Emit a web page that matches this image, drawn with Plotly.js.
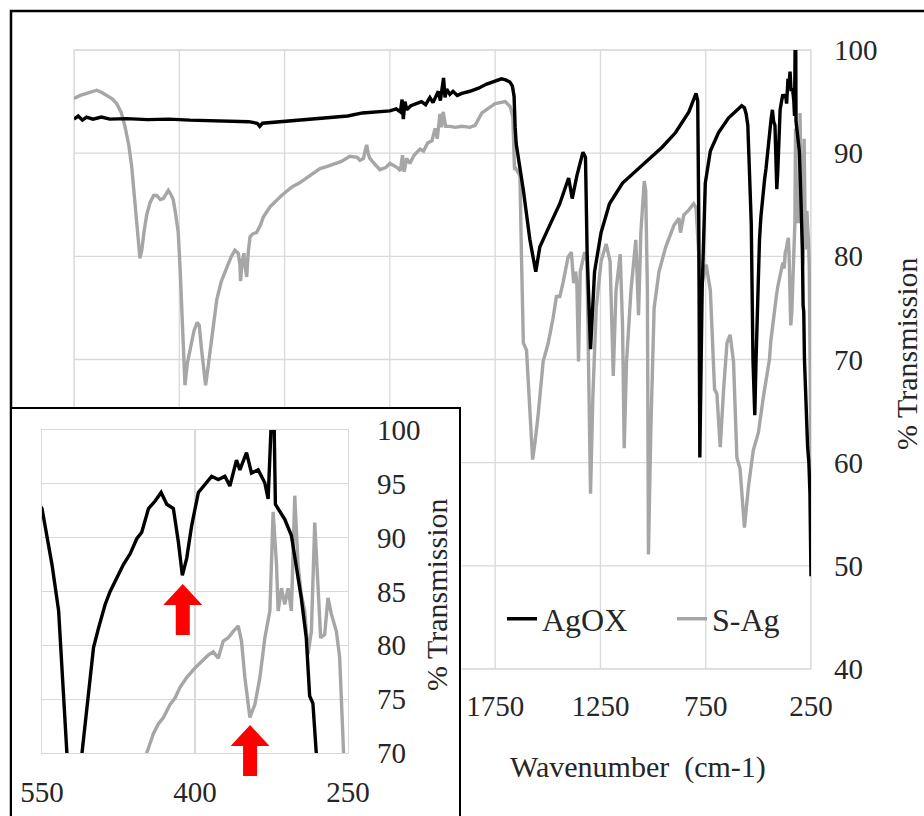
<!DOCTYPE html>
<html>
<head>
<meta charset="utf-8">
<script src="https://cdn.plot.ly/plotly-3.0.1.min.js"></script>
<style>html,body{margin:0;padding:0;background:#fff;}#chart{width:924px;height:816px;}</style>
</head>
<body>
<div id="chart"></div>
<script>
// ---------- data (wavenumber in cm-1, % transmission) ----------
const agoxWn = [3750,3730,3710,3690,3660,3620,3580,3500,3400,3300,3200,3100,3000,2920,2880,2868,2855,2800,2700,2600,2520,2450,2380,2300,2250,2220,2200,2192,2186,2178,2170,2150,2120,2100,2080,2060,2045,2030,2020,2010,2000,1995,1988,1980,1965,1950,1930,1908,1870,1829,1790,1750,1720,1700,1680,1668,1660,1655,1650,1616,1585,1557,1538,1491,1443,1401,1384,1362,1333,1321,1313,1297,1278,1247,1207,1145,1050,956,893,830,796,788,783,778,767,752,728,689,642,579,566,558,550,540.2,533.7,525.6,517,510.9,504.4,499.5,494.6,488.1,483.2,476.7,470.2,463.6,457.1,452.2,445.6,439.1,433.2,427.7,421.2,416.3,412.4,408.1,403.3,396.7,390.2,383.7,377.2,370.7,365.8,359.3,356,349.5,344.6,338.1,331.6,328.3,325.1,322.5,321.2,312,305.5,300.7,295.8,290.9,287.6,284.4,281.1,272,266,260,255,252,250];
const agoxT = [93.3,93.6,93.2,93.5,93.3,93.5,93.3,93.35,93.25,93.3,93.2,93.15,93.1,93.05,92.9,92.6,92.9,93.0,93.15,93.3,93.5,93.6,93.9,94.0,94.1,94.3,94.0,95.2,93.3,95.0,94.2,94.6,94.8,95.0,94.7,95.4,94.9,95.6,96.0,95.1,96.4,97.3,95.4,96.2,95.7,96.0,95.6,95.8,96.0,96.3,96.7,97.0,97.2,97.1,96.9,96.5,95.5,92.5,90.9,86.4,81.6,78.5,80.9,83.0,85.1,87.6,85.6,87.8,90.1,89.6,80.2,71.0,78.5,82.3,85.1,87.1,88.9,90.6,92.0,94.0,95.8,95.1,83.7,60.5,76.7,87.1,90.2,92.0,93.4,94.6,94.4,93.8,92.7,87.5,83.2,70,64.6,70,75.8,79.8,81.6,83.8,85,86.2,87.5,88.5,89.9,90.5,92.7,93.4,94.2,93.1,92.7,89.6,86.5,88.1,91.1,94.2,95,95.7,95.4,95.7,94.8,97.2,96.3,97.9,96,96.3,95.1,93.6,101,101,93.1,91.7,90.2,87.5,84.4,80.7,75.3,74.6,70,64,61.5,60,57,52,49];

const sagWn = [3750,3720,3690,3660,3642,3620,3595,3570,3547,3525,3508,3490,3476,3462,3452,3443,3437,3428,3418,3405,3389,3372,3357,3340,3326,3310,3302,3290,3279,3268,3255,3246,3239,3230,3223,3212,3199,3180,3165,3155,3146,3136,3125,3115,3104,3090,3072,3050,3025,3005,2986,2970,2962,2959,2952,2943,2937,2930,2922,2914,2900,2883,2865,2851,2819,2790,2764,2735,2709,2680,2645,2610,2582,2550,2519,2480,2440,2405,2392,2375,2368,2360,2352,2345,2320,2297,2270,2250,2215,2200,2190,2182,2170,2155,2135,2107,2090,2070,2050,2035,2025,2012,2005,1997,1985,1965,1940,1908,1870,1845,1813,1780,1750,1702,1678,1666,1662,1658,1651,1632,1625,1616,1601,1585,1577,1572,1561,1546,1522,1498,1475,1459,1443,1428,1404,1388,1377,1368,1362,1354,1346,1325,1314,1307,1297,1286,1270,1247,1223,1204,1189,1176,1156,1145,1137,1126,1105,1082,1069,1058,1042,1035,1027,1022,1011,995,972,940,901,877,870,854,830,807,796,783,775,767,748,728,708,697,681,665,649,634,618,602,587,566,547,524,500,476,460,447.3,440.8,435.9,431,424.5,419.6,414.7,408.2,400,393.5,387,382.1,377.2,372.3,367.4,362.5,357.6,354.4,351.1,346.2,341.3,336.4,331.5,326.6,323.4,320.1,318.5,315.2,312,308.7,305.5,302.2,299,295.8,292.4,289.2,285.9,282.6,279.4,276.8,272.9,269.6,266.3,261.4,258.2,255,251.5,250];
const sagT = [95.3,95.6,95.8,96.0,96.1,95.9,95.6,95.3,94.8,93.9,92.6,90.8,88.7,85.8,83.8,81.2,79.8,80.6,82.3,84.0,85.2,85.9,85.9,85.5,85.6,86.2,86.4,86.0,85.5,84.2,82.3,78.8,75.8,71.5,67.5,69.6,70.9,72.8,73.6,73.3,71.3,69.3,67.5,69.0,70.9,73.2,75.8,77.6,79.0,79.9,80.6,80.3,79.2,77.6,79.4,80.3,79.0,78.0,80.5,81.9,82.2,82.3,83.0,83.8,84.8,85.4,85.9,86.4,86.8,87.1,87.6,88.1,88.5,88.7,88.9,89.2,89.7,89.6,89.3,89.5,90.2,90.8,89.9,89.5,88.9,88.4,88.6,89.0,88.6,88.3,89.8,88.2,89.5,89.0,89.8,90.4,90.2,91.0,91.2,92.4,91.4,93.8,92.5,94.0,92.6,92.6,92.5,92.6,92.5,92.7,93.9,94.4,94.8,95.0,94.5,93.5,91.0,88.4,88.5,87.8,80,71.6,70.9,65,62.9,60.3,61.9,64.6,69.8,71.6,74.0,76.1,76.1,77.4,79.9,80.4,77.4,78.5,77.4,69.8,78.5,80.4,79.5,69.8,57.0,66.4,75.0,79.5,81.2,79.5,68.4,76.7,80.2,73.3,61.4,69.8,76.7,81.6,74.3,82.3,87.3,86.4,76.7,51.1,62.9,75.0,78.5,80.9,83.0,83.7,82.3,84.0,84.5,85.1,84.7,80.2,73.3,77.4,79.2,76.7,67.1,66.7,61.5,67.1,71.6,72.4,69.8,60.5,59.4,53.7,57.7,61.2,62.9,66.4,68.6,70,71.8,72.7,73.3,74.5,75.1,76.1,77,77.9,78.5,79.1,79.4,78.8,80.4,80.7,81.3,81.8,80.4,77,73.3,74.5,77,80.7,83.2,92.4,87.5,83.2,85.3,83.8,85.3,83.2,93.9,87.5,84.7,83.2,79.2,81.3,91.4,85.6,80.7,81,84.4,82.9,81.3,78.9,70,63,60];

const seriesNames = ['AgOX', 'S-Ag'];
const mainXTicks = [1750, 1250, 750, 250];
const mainXGrid = [3750, 3250, 2750, 2250, 1750, 1250, 750, 250];
const mainYTicks = [40, 50, 60, 70, 80, 90, 100];
const insetXTicks = [550, 400, 250];
const insetYTicks = [70, 75, 80, 85, 90, 95, 100];
const arrowWn = [412, 346];
const arrowTipT = [85.7, 72.6];

// ---------- layout helpers ----------
const W = 924, H = 816;
const FONT = 'Liberation Serif, Times New Roman, serif';
const TXT = '#262626';
const GRID = '#d9d9d9';
const mainDomX = [74 / W, 811 / W], mainDomY = [1 - 669 / H, 1 - 50 / H];
const insDomX = [42 / W, 348 / W], insDomY = [1 - 753 / H, 1 - 430 / H];
const mainRangeX = [3750, 250], mainRangeY = [40, 100];
const insRangeX = [550, 250], insRangeY = [70, 100];

function insPx(wn) { return insDomX[0] * W + (wn - insRangeX[0]) / (insRangeX[1] - insRangeX[0]) * (insDomX[1] - insDomX[0]) * W; }
function insPy(t) { return (1 - insDomY[1]) * H + (insRangeY[1] - t) / (insRangeY[1] - insRangeY[0]) * (insDomY[1] - insDomY[0]) * H; }
function arrowPath(wn, t) {
  const cx = insPx(wn), ty = insPy(t);
  const hw = 19.5, sw = 7, hl = 21, tl = 51;
  const pts = [[cx, ty], [cx + hw, ty + hl], [cx + sw, ty + hl], [cx + sw, ty + tl], [cx - sw, ty + tl], [cx - sw, ty + hl], [cx - hw, ty + hl]];
  return 'M' + pts.map(p => (p[0] / W).toFixed(5) + ',' + (1 - p[1] / H).toFixed(5)).join('L') + 'Z';
}

const shapes = [];
// outer frame
shapes.push({type: 'rect', xref: 'paper', yref: 'paper', x0: 11 / W, x1: 1.2, y0: -0.2, y1: 1 - 11 / H,
  line: {color: '#000', width: 2.5}, fillcolor: 'rgba(0,0,0,0)', layer: 'below'});
// main gridlines
mainXGrid.forEach(v => shapes.push({type: 'line', xref: 'x', yref: 'paper', x0: v, x1: v, y0: mainDomY[0], y1: mainDomY[1],
  line: {color: GRID, width: 1.3}, layer: 'below'}));
mainYTicks.forEach(v => shapes.push({type: 'line', xref: 'paper', yref: 'y', x0: mainDomX[0], x1: mainDomX[1], y0: v, y1: v,
  line: {color: GRID, width: 1.3}, layer: 'below'}));
shapes.push({type: 'rect', xref: 'paper', yref: 'paper', x0: mainDomX[0], x1: mainDomX[1], y0: mainDomY[0], y1: mainDomY[1],
  line: {color: GRID, width: 1.3}, fillcolor: 'rgba(0,0,0,0)', layer: 'below'});
// inset box
shapes.push({type: 'rect', xref: 'paper', yref: 'paper', x0: 11 / W, x1: 460 / W, y0: -0.2, y1: 1 - 408 / H,
  line: {color: '#000', width: 2}, fillcolor: '#ffffff', layer: 'below'});
// red arrows
arrowWn.forEach((wn, i) => shapes.push({type: 'path', xref: 'paper', yref: 'paper', path: arrowPath(wn, arrowTipT[i]),
  fillcolor: '#ff0000', line: {width: 0}, layer: 'above'}));

const LW = 3.4;
const traces = [
  {x: sagWn, y: sagT, xaxis: 'x', yaxis: 'y', type: 'scatter', mode: 'lines', name: seriesNames[1], legendrank: 2,
   line: {color: '#a6a6a6', width: LW}},
  {x: agoxWn, y: agoxT, xaxis: 'x', yaxis: 'y', type: 'scatter', mode: 'lines', name: seriesNames[0], legendrank: 1,
   line: {color: '#000000', width: LW}},
  {x: sagWn, y: sagT, xaxis: 'x2', yaxis: 'y2', type: 'scatter', mode: 'lines', name: seriesNames[1], showlegend: false,
   line: {color: '#a6a6a6', width: LW}},
  {x: agoxWn, y: agoxT, xaxis: 'x2', yaxis: 'y2', type: 'scatter', mode: 'lines', name: seriesNames[0], showlegend: false,
   line: {color: '#000000', width: LW}}
];

const tickFont = {family: FONT, size: 29, color: TXT};
const layout = {
  width: W, height: H,
  margin: {l: 0, r: 0, t: 0, b: 0},
  paper_bgcolor: '#ffffff', plot_bgcolor: '#ffffff',
  showlegend: true,
  xaxis: {domain: mainDomX, range: mainRangeX, anchor: 'y', tickmode: 'array', tickvals: mainXTicks,
    showgrid: false, zeroline: false, showline: false, ticks: '', tickfont: tickFont, ticklabelstandoff: 17},
  yaxis: {domain: mainDomY, range: mainRangeY, anchor: 'x', side: 'right', tickmode: 'array', tickvals: mainYTicks,
    showgrid: false, zeroline: false, showline: false, ticks: '', tickfont: tickFont, ticklabelstandoff: 22},
  xaxis2: {domain: insDomX, range: insRangeX, anchor: 'y2', tickmode: 'array', tickvals: insetXTicks,
    showgrid: true, gridcolor: GRID, gridwidth: 1.3, zeroline: false, showline: true, mirror: true, linecolor: GRID, linewidth: 1.3,
    ticks: '', tickfont: tickFont, ticklabelstandoff: 13},
  yaxis2: {domain: insDomY, range: insRangeY, anchor: 'x2', side: 'right', tickmode: 'array', tickvals: insetYTicks,
    showgrid: true, gridcolor: GRID, gridwidth: 1.3, zeroline: false, showline: true, mirror: true, linecolor: GRID, linewidth: 1.3,
    ticks: '', tickfont: tickFont, ticklabelstandoff: 22},
  legend: {orientation: 'h', x: 502 / W, xanchor: 'left', y: 1 - 619 / H, yanchor: 'middle',
    font: {family: FONT, size: 32, color: TXT}, bgcolor: 'rgba(0,0,0,0)', entrywidth: 125, entrywidthmode: 'pixels'},
  annotations: [
    {text: 'Wavenumber\u00a0 (cm-1)', xref: 'paper', yref: 'paper', x: 638 / W, y: 1 - 767 / H, showarrow: false,
     xanchor: 'center', yanchor: 'middle', font: {family: FONT, size: 30, color: TXT}},
    {text: '% Transmission', xref: 'paper', yref: 'paper', x: 906 / W, y: 1 - 354 / H, showarrow: false, textangle: -90,
     xanchor: 'center', yanchor: 'middle', font: {family: FONT, size: 30, color: TXT}},
    {text: '% Transmission', xref: 'paper', yref: 'paper', x: 436 / W, y: 1 - 595 / H, showarrow: false, textangle: -90,
     xanchor: 'center', yanchor: 'middle', font: {family: FONT, size: 30, color: TXT}}
  ],
  shapes: shapes
};

Plotly.newPlot('chart', traces, layout, {staticPlot: true, displayModeBar: false});
</script>
</body>
</html>
